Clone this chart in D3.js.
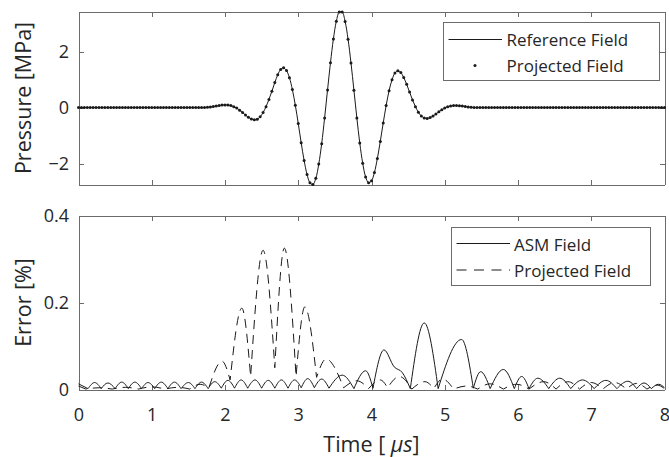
<!DOCTYPE html>
<html>
<head>
<meta charset="utf-8">
<script src="https://cdn.jsdelivr.net/npm/d3@7/dist/d3.min.js"></script>
<style>
  html, body { margin: 0; padding: 0; background: #fff; }
  svg { display: block; font-family: "Open Sans", "Noto Sans", sans-serif; }
  .axis path, .axis line { stroke: #6b6b6b; stroke-width: 1; shape-rendering: crispEdges; }
  .axis text { fill: #262626; font-size: 18px; font-family: "Open Sans", sans-serif; }
</style>
</head>
<body>
<svg id="chart" width="669" height="457"></svg>
<script>
// ---- Time axis ----
const timeTicks = [0, 1, 2, 3, 4, 5, 6, 7, 8];
const sampleStep = 0.04; // µs between pressure samples

// ---- Pressure waveform [MPa], one value per sample (t = i * sampleStep) ----
const pressure = [
  0,0,0,0,0,0,0,0,0,0, 0,0,0,0,0,0,0,0,0,0,
  0,0,0,0,0,0,0,0,0,0, 0,0,0,0,0,0,0,0,0,0,
  0,0,0,0,
  0.01, 0.02, 0.04, 0.05, 0.07, 0.09, 0.09, 0.09, 0.07, 0.03,
  -0.02, -0.10, -0.18, -0.27, -0.35, -0.41, -0.44, -0.42, -0.33, -0.18,
  0.03, 0.29, 0.58, 0.89, 1.17, 1.36, 1.42, 1.32, 1.06, 0.64,
  0.08, -0.57, -1.26, -1.89, -2.39, -2.69, -2.75, -2.53, -2.02, -1.29,
  -0.37, 0.63, 1.60, 2.45, 3.08, 3.41, 3.41, 3.07, 2.44, 1.59,
  0.62, -0.37, -1.27, -1.99, -2.48, -2.69, -2.62, -2.32, -1.82, -1.21,
  -0.55, 0.07, 0.60, 0.99, 1.23, 1.31, 1.25, 1.07, 0.83, 0.55,
  0.27, 0.03, -0.17, -0.30, -0.37, -0.39, -0.36, -0.30, -0.23, -0.15,
  -0.08, -0.02, 0.03, 0.05, 0.07, 0.07, 0.06, 0.05, 0.04, 0.02,
  0.01,
  0,0,0,0,0,0,0,0,0,0, 0,0,0,0,0,0,0,0,0,0,
  0,0,0,0,0,0,0,0,0,0, 0,0,0,0,0,0,0,0,0,0,
  0,0,0,0,0,0,0,0,0,0, 0,0,0,0,0,0,0,0,0,0,
  0,0,0,0,0,0
];
const pressureTicks = [-2, 0, 2];
const pressureDomain = [-2.75, 3.43];

// ---- Error [%]: knots (local minima and maxima) of each error trace ----
const asmTimes = [
  0.00, 0.13, 0.22, 0.31, 0.40, 0.50, 0.59, 0.68, 0.77, 0.86,
  0.95, 1.04, 1.13, 1.22, 1.31, 1.40, 1.50, 1.59, 1.68, 1.77,
  1.86, 1.95, 2.04, 2.13, 2.22, 2.31, 2.41, 2.50, 2.59, 2.68,
  2.77, 2.86, 2.95, 3.04, 3.13, 3.22, 3.32, 3.42, 3.60, 3.76,
  3.92, 4.02, 4.17, 4.31, 4.42, 4.53, 4.72, 4.91, 5.23, 5.39,
  5.49, 5.62, 5.80, 5.95, 6.05, 6.15, 6.27, 6.42, 6.57, 6.72,
  6.88, 7.04, 7.20, 7.35, 7.50, 7.62, 7.72, 7.82, 7.92, 8.00
];
const asmErrors = [
  0.013, 0.002, 0.016, 0.002, 0.015, 0.002, 0.017, 0.002, 0.017, 0.002,
  0.016, 0.002, 0.017, 0.002, 0.017, 0.002, 0.016, 0.002, 0.017, 0.002,
  0.018, 0.003, 0.021, 0.003, 0.022, 0.003, 0.022, 0.003, 0.021, 0.003,
  0.022, 0.003, 0.022, 0.004, 0.025, 0.004, 0.024, 0.003, 0.033, 0.002,
  0.043, 0.003, 0.091, 0.052, 0.039, 0.002, 0.153, 0.002, 0.115, 0.003,
  0.041, 0.002, 0.046, 0.002, 0.030, 0.002, 0.026, 0.002, 0.026, 0.002,
  0.022, 0.002, 0.021, 0.002, 0.019, 0.002, 0.015, 0.002, 0.012, 0.004
];
const projTimes = [
  0.00, 0.10, 0.28, 0.46, 0.64, 0.82, 1.00, 1.18, 1.36, 1.52,
  1.66, 1.78, 1.96, 2.07, 2.23, 2.35, 2.52, 2.68, 2.81, 2.97,
  3.09, 3.25, 3.38, 3.62, 3.80, 3.96, 4.12, 4.22, 4.38, 4.55,
  4.73, 4.85, 4.97, 5.12, 5.30, 5.45, 5.62, 5.80, 5.98, 6.15,
  6.35, 6.52, 6.68, 6.84, 7.00, 7.16, 7.32, 7.48, 7.62, 7.76,
  7.90, 8.00
];
const projErrors = [
  0.008, 0.001, 0.004, 0.001, 0.005, 0.001, 0.006, 0.001, 0.005, 0.001,
  0.012, 0.004, 0.065, 0.022, 0.187, 0.030, 0.320, 0.050, 0.325, 0.030,
  0.190, 0.028, 0.070, 0.004, 0.020, 0.002, 0.022, 0.004, 0.030, 0.001,
  0.018, 0.002, 0.024, 0.001, 0.008, 0.001, 0.013, 0.001, 0.012, 0.001,
  0.018, 0.001, 0.018, 0.001, 0.016, 0.001, 0.016, 0.001, 0.014, 0.001,
  0.010, 0.002
];
const errorTicks = [0, 0.2, 0.4];
const errorDomain = [0, 0.4];

const svg = d3.select("#chart");
const ink = "#1a1a1a";
const textInk = "#262626";

const x = d3.scaleLinear().domain([0, 8]).range([78.5, 664.5]);
const yP = d3.scaleLinear().domain(pressureDomain).range([184.5, 11.5]);
const yE = d3.scaleLinear().domain(errorDomain).range([389.5, 215.5]);

// Boxed axes with inward ticks on all four sides
function drawFrame(yScale, yTicks, yFmt, showXLabels) {
  const top = yScale.range()[1], bottom = yScale.range()[0];
  const left = x.range()[0], right = x.range()[1];
  svg.append("g").attr("class", "axis")
    .attr("transform", `translate(0,${bottom})`)
    .call(d3.axisBottom(x).tickValues(timeTicks).tickSize(-5).tickSizeOuter(0)
      .tickPadding(18.6).tickFormat(showXLabels ? d3.format("d") : () => ""));
  svg.append("g").attr("class", "axis")
    .attr("transform", `translate(0,${top})`)
    .call(d3.axisTop(x).tickValues(timeTicks).tickSize(-5).tickSizeOuter(0).tickFormat(() => ""));
  svg.append("g").attr("class", "axis")
    .attr("transform", `translate(${left},0)`)
    .call(d3.axisLeft(yScale).tickValues(yTicks).tickSize(-5).tickSizeOuter(0)
      .tickPadding(9.5).tickFormat(yFmt));
  svg.append("g").attr("class", "axis")
    .attr("transform", `translate(${right},0)`)
    .call(d3.axisRight(yScale).tickValues(yTicks).tickSize(-5).tickSizeOuter(0).tickFormat(() => ""));
}

// ---- Top panel: pressure ----
drawFrame(yP, pressureTicks, d3.format("d"), false);

const pts = pressure.map((p, i) => [i * sampleStep, p]);
svg.append("path")
  .attr("d", d3.line().x(d => x(d[0])).y(d => yP(d[1])).curve(d3.curveCatmullRom)(pts))
  .attr("fill", "none").attr("stroke", ink).attr("stroke-width", 1);
svg.append("g").selectAll("circle").data(pts).join("circle")
  .attr("cx", d => x(d[0])).attr("cy", d => yP(d[1])).attr("r", 1.5)
  .attr("fill", ink);

svg.append("text")
  .attr("transform", `translate(22,${(yP.range()[0] + yP.range()[1]) / 2}) rotate(-90)`)
  .attr("text-anchor", "middle").attr("dominant-baseline", "central")
  .attr("fill", textInk).attr("font-size", 21.5).text("Pressure [MPa]");

// ---- Bottom panel: error ----
drawFrame(yE, errorTicks, d => d === 0 ? "0" : d3.format(".1f")(d), true);

// Rectified error traces: smooth lobes joined with sharp cusps at the minima
function lobePath(ts, vs) {
  const p = ts.map((t, i) => [x(t), yE(vs[i])]);
  const cuts = [0];
  for (let i = 1; i < vs.length - 1; i++) {
    if (vs[i] <= vs[i - 1] && vs[i] <= vs[i + 1]) cuts.push(i);
  }
  cuts.push(vs.length - 1);
  const gen = d3.line().curve(d3.curveMonotoneX);
  let d = "";
  for (let j = 0; j < cuts.length - 1; j++) {
    let s = gen(p.slice(cuts[j], cuts[j + 1] + 1));
    if (j > 0) s = s.replace(/^M[^CL]*/, "");
    d += s;
  }
  return d;
}

svg.append("path").attr("d", lobePath(projTimes, projErrors))
  .attr("fill", "none").attr("stroke", ink).attr("stroke-width", 1)
  .attr("stroke-dasharray", "9,6");
svg.append("path").attr("d", lobePath(asmTimes, asmErrors))
  .attr("fill", "none").attr("stroke", ink).attr("stroke-width", 1);

svg.append("text")
  .attr("transform", `translate(22,${(yE.range()[0] + yE.range()[1]) / 2}) rotate(-90)`)
  .attr("text-anchor", "middle").attr("dominant-baseline", "central")
  .attr("fill", textInk).attr("font-size", 21.5).text("Error [%]");

const xl = svg.append("text")
  .attr("x", (x.range()[0] + x.range()[1]) / 2).attr("y", 451.5)
  .attr("text-anchor", "middle").attr("fill", textInk).attr("font-size", 21.5);
xl.append("tspan").text("Time [ ");
xl.append("tspan").attr("font-style", "italic").text("\u03BCs");
xl.append("tspan").text("]");

// ---- Legends ----
function legendBox(x0, y0, w, h) {
  svg.append("rect").attr("x", x0).attr("y", y0).attr("width", w).attr("height", h)
    .attr("fill", "#fff").attr("stroke", "#6b6b6b").attr("stroke-width", 1)
    .attr("shape-rendering", "crispEdges");
}
function legendText(tx, ty, label) {
  svg.append("text").attr("x", tx).attr("y", ty).attr("fill", textInk)
    .attr("font-size", 17).text(label);
}

legendBox(443.5, 22.5, 216, 57.5);
svg.append("line").attr("x1", 448.5).attr("x2", 502).attr("y1", 39.5).attr("y2", 39.5)
  .attr("stroke", ink).attr("stroke-width", 1);
legendText(506.5, 45.5, "Reference Field");
svg.append("circle").attr("cx", 475).attr("cy", 65.5).attr("r", 1.5).attr("fill", ink);
legendText(506.5, 71.5, "Projected Field");

legendBox(451.5, 227.5, 198.5, 58);
svg.append("line").attr("x1", 456.5).attr("x2", 510).attr("y1", 243.5).attr("y2", 243.5)
  .attr("stroke", ink).attr("stroke-width", 1);
legendText(514, 250.5, "ASM Field");
svg.append("line").attr("x1", 456.5).attr("x2", 510).attr("y1", 270).attr("y2", 270)
  .attr("stroke", ink).attr("stroke-width", 1).attr("stroke-dasharray", "10,7.5");
legendText(514, 276.5, "Projected Field");
</script>
</body>
</html>
